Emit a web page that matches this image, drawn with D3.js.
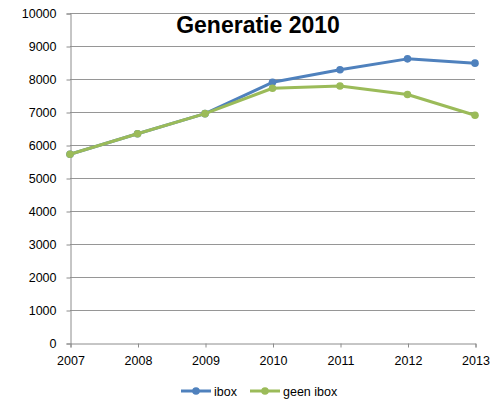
<!DOCTYPE html>
<html lang="en">
<head>
    <meta charset="UTF-8"/>
    <title>Generatie 2010</title>
    <script src="https://d3js.org/d3.v7.min.js"></script>
    <style>
        body { margin: 0; background: #fff; }
        text { font-family: "Liberation Sans", Arial, sans-serif; }
    </style>
</head>
<body>
    <div id="chart"></div>

    <script>
        // Data
        const years = [2007, 2008, 2009, 2010, 2011, 2012, 2013];
        const ibox = [5720, 6340, 6950, 7900, 8280, 8610, 8480];
        const geenIbox = [5720, 6340, 6950, 7720, 7790, 7530, 6900];
        const yTicks = [0, 1000, 2000, 3000, 4000, 5000, 6000, 7000, 8000, 9000, 10000];

        const series = [
            { name: "ibox", values: ibox, color: "#4f81bd" },
            { name: "geen ibox", values: geenIbox, color: "#9bbb59" }
        ];

        const w = 498, h = 402;
        const margin = { top: 13, right: 23, bottom: 59, left: 70 };
        const fontSize = "12.5px";

        const svg = d3.select("#chart").append("svg")
            .attr("width", w)
            .attr("height", h);

        const x = d3.scaleLinear()
            .domain([years[0], years[years.length - 1]])
            .range([margin.left, w - margin.right]);

        const y = d3.scaleLinear()
            .domain([0, 10000])
            .range([h - margin.bottom, margin.top]);

        // Horizontal gridlines
        svg.append("g")
            .selectAll("line")
            .data(yTicks.slice(1))
            .join("line")
            .attr("x1", margin.left)
            .attr("x2", w - margin.right)
            .attr("y1", d => Math.round(y(d)) + 0.5)
            .attr("y2", d => Math.round(y(d)) + 0.5)
            .attr("stroke", "#969696")
            .attr("stroke-width", 1);

        // Y axis
        const yAxis = svg.append("g")
            .attr("transform", `translate(${margin.left + 0.5},0.5)`)
            .call(d3.axisLeft(y).tickValues(yTicks).tickSize(4).tickPadding(10).tickFormat(d3.format("d")));
        yAxis.select(".domain").attr("stroke", "#8c8c8c");
        yAxis.selectAll(".tick line").attr("stroke", "#8c8c8c");
        yAxis.selectAll("text")
            .attr("font-size", fontSize)
            .attr("fill", "#000")
            .style("font-family", "'Liberation Sans', Arial, sans-serif");

        // X axis
        const xAxis = svg.append("g")
            .attr("transform", `translate(0.5,${Math.round(y(0)) + 0.5})`)
            .call(d3.axisBottom(x).tickValues(years).tickSize(4).tickPadding(9).tickFormat(d3.format("d")));
        xAxis.select(".domain").attr("stroke", "#8c8c8c");
        xAxis.selectAll(".tick line").attr("stroke", "#8c8c8c");
        xAxis.selectAll("text")
            .attr("font-size", fontSize)
            .attr("fill", "#000")
            .style("font-family", "'Liberation Sans', Arial, sans-serif");

        // Lines and markers
        const line = d3.line()
            .x((d, i) => x(years[i]))
            .y(d => y(d));

        series.forEach(s => {
            svg.append("path")
                .datum(s.values)
                .attr("fill", "none")
                .attr("stroke", s.color)
                .attr("stroke-width", 3)
                .attr("stroke-linejoin", "round")
                .attr("d", line);

            svg.append("g")
                .selectAll("circle")
                .data(s.values)
                .join("circle")
                .attr("cx", (d, i) => x(years[i]))
                .attr("cy", d => y(d))
                .attr("r", 3.8)
                .attr("fill", s.color);
        });

        // Title
        svg.append("text")
            .attr("x", 258)
            .attr("y", 33)
            .attr("text-anchor", "middle")
            .attr("font-size", "23px")
            .attr("font-weight", "bold")
            .attr("fill", "#000")
            .text("Generatie 2010");

        // Legend
        const legendX = [181, 250];
        const legend = svg.append("g")
            .selectAll("g")
            .data(series)
            .join("g")
            .attr("transform", (d, i) => `translate(${legendX[i]},391)`);

        legend.append("line")
            .attr("x1", 0).attr("x2", 30)
            .attr("y1", 0).attr("y2", 0)
            .attr("stroke", d => d.color)
            .attr("stroke-width", 3);

        legend.append("circle")
            .attr("cx", 15).attr("cy", 0).attr("r", 3.8)
            .attr("fill", d => d.color);

        legend.append("text")
            .attr("x", 33)
            .attr("y", 4.5)
            .attr("font-size", fontSize)
            .attr("fill", "#000")
            .text(d => d.name);
    </script>
</body>
</html>
